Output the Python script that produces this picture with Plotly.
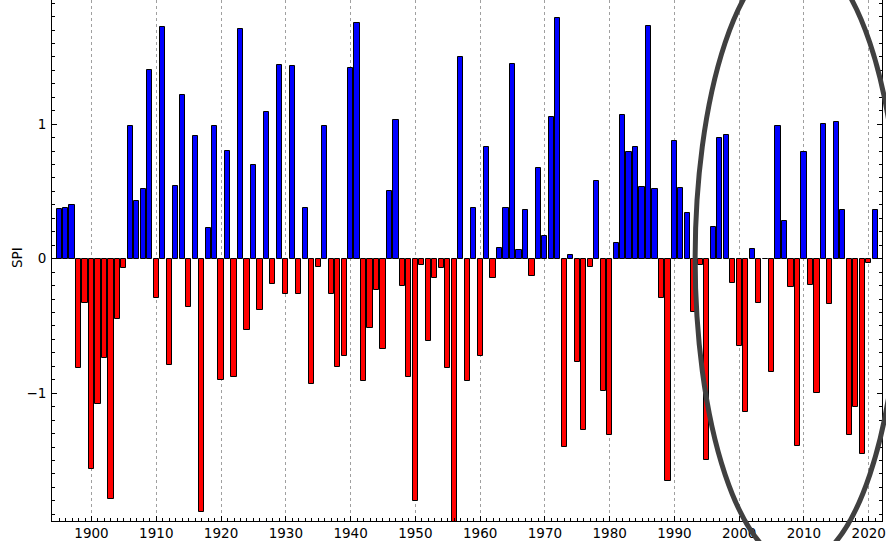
import plotly.graph_objects as go

# ---- data ----
years = list(range(1895, 2022))
spi = [
    0.37, 0.38, 0.40, -0.81, -0.33,                      # 1895-1899
    -1.56, -1.08, -0.735, -1.79, -0.45, -0.07, 0.99, 0.43, 0.52, 1.40,   # 1900s
    -0.29, 1.72, -0.79, 0.54, 1.22, -0.36, 0.91, -1.88, 0.23, 0.99,      # 1910s
    -0.90, 0.80, -0.88, 1.71, -0.53, 0.70, -0.38, 1.09, -0.19, 1.44,     # 1920s
    -0.265, 1.43, -0.26, 0.375, -0.935, -0.06, 0.99, -0.265, -0.805, -0.72,  # 1930s
    1.415, 1.75, -0.91, -0.515, -0.23, -0.67, 0.50, 1.03, -0.205, -0.88,  # 1940s
    -1.80, -0.045, -0.615, -0.14, -0.07, -0.81, -2.0, 1.50, -0.91, 0.375,  # 1950s
    -0.72, 0.83, -0.14, 0.08, 0.375, 1.45, 0.065, 0.36, -0.125, 0.675,   # 1960s
    0.17, 1.055, 1.79, -1.40, 0.025, -0.765, -1.27, -0.06, 0.58, -0.98,  # 1970s
    -1.31, 0.115, 1.07, 0.79, 0.83, 0.53, 1.73, 0.515, -0.295, -1.65,    # 1980s
    0.875, 0.525, 0.34, -0.40, -0.045, -1.50, 0.235, 0.90, 0.92, -0.18,  # 1990s
    -0.65, -1.14, 0.07, -0.33, -0.005, -0.845, 0.985, 0.28, -0.21, -1.39,  # 2000s
    0.795, -0.195, -1.0, 1.0, -0.335, 1.015, 0.365, -1.31, -1.105, -1.45,  # 2010s
    -0.03, 0.36,                                          # 2020-2021
]
assert len(spi) == len(years)

x_tick_vals = list(range(1900, 2021, 10))
y_tick_vals = [-1, 0, 1]

X_RANGE = [1893.9, 2022.05]
Y_RANGE = [-1.95, 1.923]

# highlighted period (ellipse), in data units
ell_x = [1993.2, 2024.8]
ell_y = [-2.27, 2.27]

colors = ["#0000ff" if v >= 0 else "#ff0000" for v in spi]

fig = go.Figure()
fig.add_trace(go.Bar(
    x=years, y=spi, width=0.8,
    marker=dict(color=colors, line=dict(color="black", width=1)),
    showlegend=False,
))

def to_paper_x(v):
    return (v - X_RANGE[0]) / (X_RANGE[1] - X_RANGE[0])

def to_paper_y(v):
    return (v - Y_RANGE[0]) / (Y_RANGE[1] - Y_RANGE[0])

fig.add_shape(
    type="circle", xref="paper", yref="paper",
    x0=to_paper_x(ell_x[0]), x1=to_paper_x(ell_x[1]),
    y0=to_paper_y(ell_y[0]), y1=to_paper_y(ell_y[1]),
    line=dict(color="#404040", width=5), layer="above",
)

fig.add_annotation(
    text="SPI", xref="paper", yref="paper", x=-0.042, y=0.505,
    showarrow=False, textangle=-90, font=dict(size=13.5, color="black"),
    xanchor="center", yanchor="middle",
)

tickfont = dict(family="DejaVu Sans", size=13.5, color="black")

fig.update_layout(
    width=886, height=541,
    margin=dict(l=52, r=4, t=0, b=20, autoexpand=False),
    paper_bgcolor="white", plot_bgcolor="white",
    font=dict(family="DejaVu Sans", size=13.5, color="black"),
    bargap=0,
    xaxis=dict(
        range=X_RANGE, tickvals=x_tick_vals, ticks="inside", ticklen=5,
        tickcolor="black", showline=True, linecolor="black", linewidth=1,
        mirror=False, showgrid=True, gridcolor="#a0a0a0", griddash="dot",
        gridwidth=1, zeroline=False, tickfont=tickfont, automargin=False,
        ticklabelstandoff=0,
        minor=dict(dtick=1, tick0=1900, ticks="inside", ticklen=3,
                   tickcolor="black", showgrid=False),
    ),
    yaxis=dict(
        range=Y_RANGE, tickvals=y_tick_vals, ticks="inside", ticklen=5,
        tickcolor="black", showline=True, linecolor="black", linewidth=1,
        mirror="ticks", showgrid=False, zeroline=False, tickfont=tickfont,
        automargin=False, ticklabelstandoff=2,
        minor=dict(dtick=0.1, tick0=0, ticks="inside", ticklen=3,
                   tickcolor="black", showgrid=False),
    ),
)

fig.write_html(
    "out.html",
    config={"displayModeBar": False},
    post_script="document.body.style.margin='0';document.body.style.padding='0';"
                "document.body.style.overflow='hidden';",
)
